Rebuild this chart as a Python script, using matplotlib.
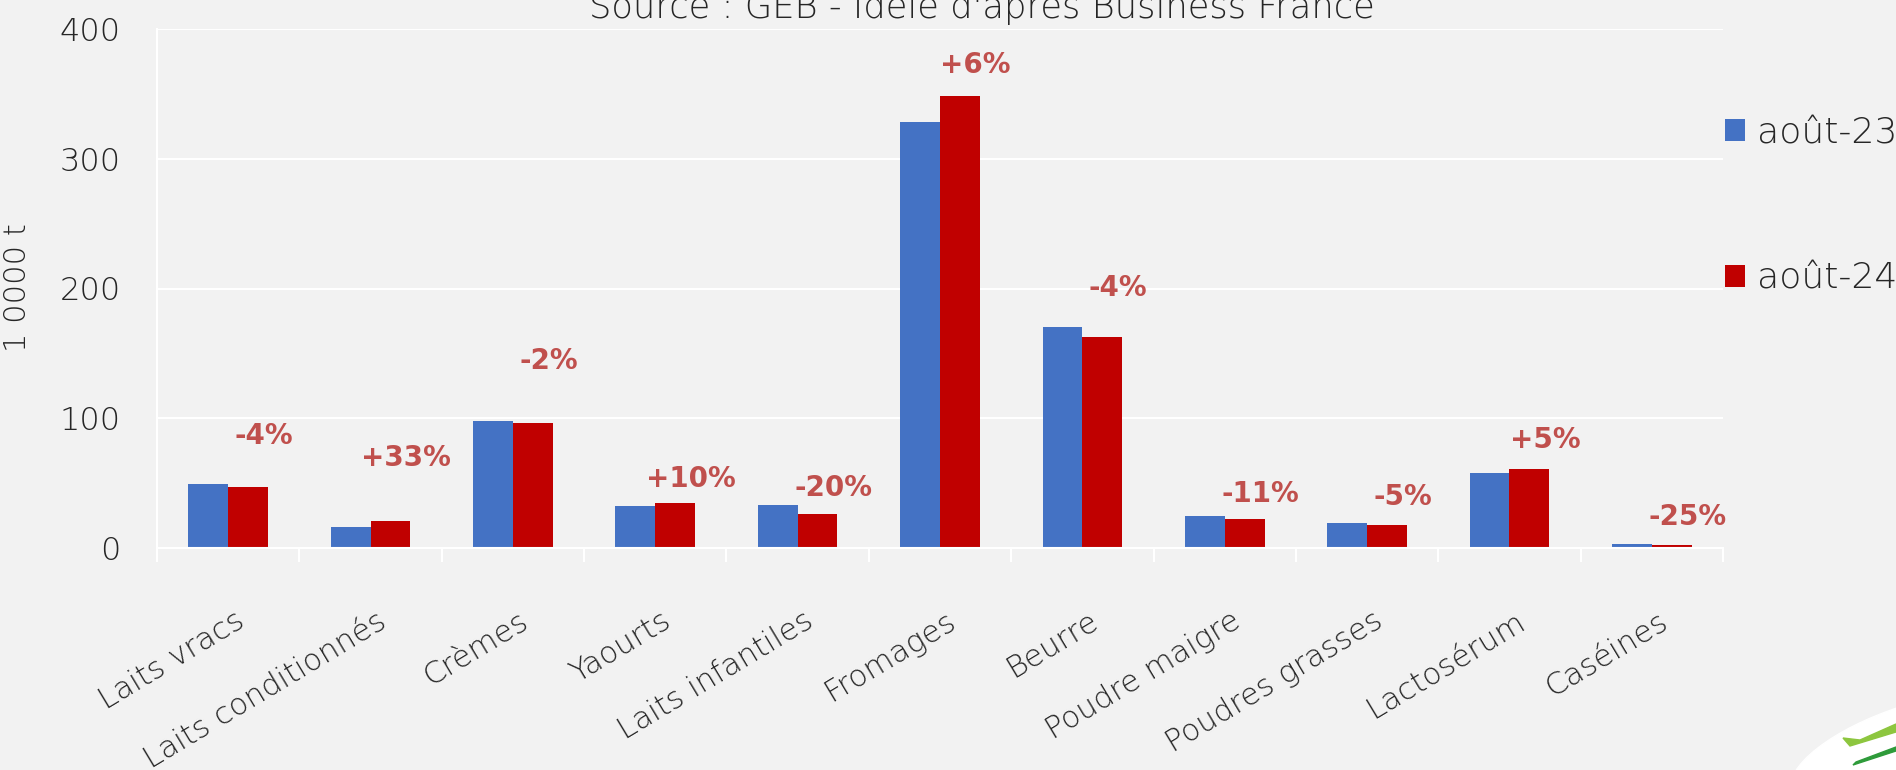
import matplotlib
matplotlib.use("Agg")
import matplotlib.pyplot as plt
import matplotlib.transforms as mtransforms
import numpy as np
from matplotlib.patches import Ellipse, Polygon

plt.rcParams['font.family'] = ['DejaVu Sans']

categories = ["Laits vracs", "Laits conditionnés", "Crèmes", "Yaourts",
              "Laits infantiles", "Fromages", "Beurre", "Poudre maigre",
              "Poudres grasses", "Lactosérum", "Caséines"]
aout_23 = [49, 16, 98, 32, 33, 328, 170, 24.5, 19, 58, 3.2]
aout_24 = [47, 21, 96, 35, 26, 348, 163, 22, 18, 61, 2.4]
evolution = ["-4%", "+33%", "-2%", "+10%", "-20%", "+6%", "-4%",
             "-11%", "-5%", "+5%", "-25%"]
series_names = ["août-23", "août-24"]

# where the percentage labels sit (data units), as placed on the slide
label_y = [86, 69, 144, 53, 46, 372, 200, 42, 39, 83, 24]

BG = "#F2F2F2"
BLUE = "#4472C4"
RED = "#C00000"
PCT = "#C0504D"
TXT = "#262626"

fig = plt.figure(figsize=(18.96, 7.7), dpi=100, facecolor=BG)
ax = fig.add_axes([157 / 1896, 1 - 548 / 770, (1723 - 157) / 1896, (548 - 29) / 770])
ax.set_facecolor(BG)

x = np.arange(len(categories))
w = 0.28
b1 = ax.bar(x - w / 2, aout_23, w, color=BLUE, label=series_names[0])
b2 = ax.bar(x + w / 2, aout_24, w, color=RED, label=series_names[1])

for i, lab in enumerate(evolution):
    ax.text(x[i] + 0.25, label_y[i], lab, color=PCT, fontsize=20,
            fontweight='bold', ha='center', va='center')

ax.set_xlim(-0.5, len(categories) - 0.5)
ax.set_ylim(0, 400)
ax.set_yticks([0, 100, 200, 300, 400])
ax.yaxis.grid(True, color='white', linewidth=1.5)
ax.set_axisbelow(True)
for s in ['top', 'right']:
    ax.spines[s].set_visible(False)
for s in ['bottom', 'left']:
    ax.spines[s].set_color('white')
    ax.spines[s].set_linewidth(1.5)

ax.tick_params(axis='y', length=0, labelsize=23, labelcolor=TXT, pad=26)
for lbl in ax.get_yticklabels():
    lbl.set_fontweight('light')
ax.set_xticks(x)
ax.set_xticklabels(categories, rotation=31, ha='right', va='top',
                   rotation_mode='anchor', fontsize=22, color=TXT,
                   fontweight='light')
ax.tick_params(axis='x', length=0, pad=42)
# category separators
ax.set_xticks(np.arange(-0.5, len(categories)), minor=True)
ax.tick_params(axis='x', which='minor', length=10, color='white', width=1.5)

offset = mtransforms.ScaledTranslation(0.06, 0, fig.dpi_scale_trans)
for lbl in ax.get_xticklabels():
    lbl.set_transform(lbl.get_transform() + offset)

ax.set_ylabel("1 0000 t", fontsize=22, color=TXT, fontweight='light')
ax.yaxis.set_label_coords(-(157 - 32) / 1566, 1 - (288 - 29) / 519)

fig.text(982 / 1896, 1 - 18 / 770, "Source : GEB - Idele d'après Business France",
         fontsize=25.5, color=TXT, ha='center', va='baseline', fontweight='light')

leg = fig.legend(handles=[b1, b2], labels=series_names, loc='upper left',
                 bbox_to_anchor=(1725 / 1896, 1 - 116 / 770), frameon=False,
                 fontsize=26, labelcolor=TXT, handlelength=0.55,
                 handleheight=0.55, handletextpad=0.33, labelspacing=3.1,
                 borderpad=0, borderaxespad=0)
for t in leg.get_texts():
    t.set_fontweight('light')

# corner logo (partly out of frame)
fig.patches.append(Ellipse((1915, 18), 260, 95, angle=18, color='white',
                           transform=None, zorder=0))
fig.patches.append(Polygon([(1843, 32), (1850, 24), (1896, 38), (1896, 46),
                            (1860, 30)], closed=True, color='#8DC63F',
                           transform=None))
fig.patches.append(Polygon([(1853, 5), (1896, 19), (1896, 23), (1856, 8)],
                           closed=True, color='#2E9B3A', transform=None))

fig.savefig("out.png", dpi=100, facecolor=BG)
